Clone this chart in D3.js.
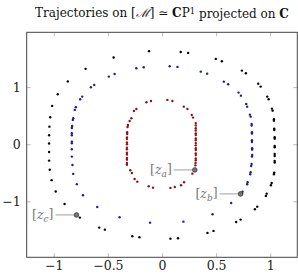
<!DOCTYPE html>
<html>
<head>
<meta charset="utf-8">
<script src="https://cdn.jsdelivr.net/npm/d3@7"></script>
<style>
  body { margin: 0; background: #fff; }
  text { font-family: "DejaVu Serif", serif; }
</style>
</head>
<body>
<svg id="chart" width="298" height="277"></svg>
<script>
// Trajektorien (Punkte als [x, y])
const outerTraj = [
  [-0.12,1.63],[-0.447,1.52],[-0.706,1.32],[-0.87,1.10],[-0.963,0.876],[-1.015,0.671],
  [-1.033,0.473],[-1.04,0.308],[-1.043,0.158],[-1.043,0.014],[-1.043,-0.135],[-1.043,-0.287],
  [-1.037,-0.447],[-1.02,-0.629],[-0.982,-0.827],[-0.90,-1.046],[-0.79,-1.238],[-0.759,-1.285],
  [-0.58,-1.46],[-0.528,-1.496],[-0.274,-1.611],[-0.209,-1.629],[0.078,-1.653],[0.148,-1.646],
  [0.42,-1.553],[0.476,-1.518],[0.685,-1.361],[0.726,-1.32],[0.858,-1.138],[0.88,-1.093],
  [0.96,-0.905],[0.967,-0.865],[1.006,-0.718],[1.013,-0.678],[1.034,-0.525],[1.037,-0.497],
  [1.041,-0.322],[1.041,-0.292],[1.041,-0.205],[1.041,-0.17],[1.041,-0.053],[1.041,-0.03],
  [1.041,0.098],[1.041,0.123],[1.037,0.25],[1.037,0.273],[1.034,0.413],[1.034,0.438],
  [1.022,0.588],[1.016,0.623],[0.985,0.788],[0.972,0.834],[0.911,1.009],[0.889,1.061],
  [0.775,1.243],[0.738,1.289],[0.553,1.454],[0.497,1.494],[0.241,1.599],[0.173,1.616]
];
const middleTraj = [
  [-0.169,1.349],[-0.237,1.331],[-0.438,1.231],[-0.491,1.184],[-0.626,1.039],[-0.657,0.998],
  [-0.737,0.834],[-0.756,0.788],[-0.796,0.648],[-0.806,0.601],[-0.82,0.455],[-0.824,0.426],
  [-0.83,0.32],[-0.833,0.285],[-0.833,0.193],[-0.833,0.158],[-0.833,0.046],[-0.833,0.018],
  [-0.833,-0.088],[-0.833,-0.217],[-0.827,-0.363],[-0.82,-0.52],[-0.787,-0.699],[-0.73,-0.893],
  [-0.598,-1.098],[-0.392,-1.278],[-0.11,-1.373],[0.198,-1.356],[0.467,-1.226],[0.639,-1.028],
  [0.726,-0.87],[0.738,-0.858],[0.744,-0.83],[0.787,-0.70],[0.791,-0.665],[0.815,-0.525],
  [0.819,-0.49],[0.824,-0.38],[0.828,-0.345],[0.831,-0.217],[0.833,-0.187],[0.833,-0.095],
  [0.833,-0.07],[0.831,0.04],[0.831,0.07],[0.831,0.186],[0.831,0.21],[0.828,0.326],
  [0.828,0.356],[0.819,0.483],[0.812,0.518],[0.787,0.658],[0.778,0.706],[0.729,0.851],
  [0.707,0.904],[0.611,1.051],[0.571,1.096],[0.417,1.236],[0.358,1.271],[0.143,1.354],
  [0.071,1.366]
];
const innerTraj = [
  [-0.144,0.736],[-0.102,0.758],[0.05,0.776],[0.096,0.758],[0.201,0.658],[0.235,0.618],
  [0.275,0.513],[0.287,0.466],[0.312,0.37],[0.312,0.33],[0.312,0.28],[0.312,0.24],
  [0.312,0.19],[0.312,0.16],[0.312,0.10],[0.312,0.07],[0.312,0.02],[0.312,-0.02],
  [0.312,-0.07],[0.312,-0.10],[0.312,-0.16],[0.312,-0.19],[0.312,-0.25],[0.312,-0.28],
  [0.31,-0.33],[0.308,-0.37],[0.303,-0.45],[0.281,-0.515],[0.204,-0.666],[0.176,-0.718],
  [0.118,-0.748],[0.078,-0.765],[-0.083,-0.76],[-0.123,-0.736],[-0.228,-0.655],[-0.253,-0.608],
  [-0.278,-0.503],[-0.293,-0.455],[-0.324,-0.36],[-0.324,-0.33],[-0.324,-0.27],[-0.324,-0.24],
  [-0.324,-0.18],[-0.324,-0.15],[-0.324,-0.09],[-0.324,-0.06],[-0.324,0.0],[-0.324,0.03],
  [-0.324,0.09],[-0.324,0.12],[-0.322,0.18],[-0.322,0.21],[-0.318,0.303],[-0.315,0.338],
  [-0.299,0.408],[-0.283,0.455],[-0.259,0.583],[-0.237,0.618]
];

// markierte Punkte
const markerNames = ["a", "b", "c"];
const markerX = [0.303, 0.726, -0.79];
const markerY = [-0.45, -0.87, -1.238];

const xTicks = [-1, -0.5, 0, 0.5, 1];
const yTicks = [-1, 0, 1];

const width = 298, height = 277;
const box = { left: 26.7, right: 297.3, top: 32.3, bottom: 257.3 };

const svg = d3.select("#chart");

const x = d3.scaleLinear().domain([-1.25, 1.25]).range([box.left, box.right]);
const y = d3.scaleLinear().domain([-1.98, 1.96]).range([box.bottom, box.top]);

const fmt = d => (d < 0 ? "\u2212" : "") + Math.abs(d);

// Achsen mit Ticks nach innen, auf allen vier Seiten
function styleAxis(sel, labels) {
  sel.attr("font-family", null).attr("font-size", null);
  sel.select(".domain").remove();
  sel.selectAll(".tick line").attr("stroke", "#aaa").attr("stroke-width", 0.8);
  sel.selectAll(".tick text")
    .attr("fill", "#222")
    .style("font-size", "12.5px");
  if (!labels) sel.selectAll(".tick text").remove();
}

svg.append("g")
  .attr("transform", `translate(0,${box.bottom})`)
  .call(d3.axisBottom(x).tickValues(xTicks).tickFormat(fmt).tickSizeInner(-4).tickSizeOuter(0).tickPadding(4))
  .call(s => styleAxis(s, true));
svg.append("g")
  .attr("transform", `translate(0,${box.top})`)
  .call(d3.axisTop(x).tickValues(xTicks).tickSizeInner(-4).tickSizeOuter(0))
  .call(s => styleAxis(s, false));
svg.append("g")
  .attr("transform", `translate(${box.left},0)`)
  .call(d3.axisLeft(y).tickValues(yTicks).tickFormat(fmt).tickSizeInner(-4).tickSizeOuter(0).tickPadding(6))
  .call(s => styleAxis(s, true));
svg.append("g")
  .attr("transform", `translate(${box.right},0)`)
  .call(d3.axisRight(y).tickValues(yTicks).tickSizeInner(-4).tickSizeOuter(0))
  .call(s => styleAxis(s, false));

svg.append("rect")
  .attr("x", box.left).attr("y", box.top)
  .attr("width", box.right - box.left).attr("height", box.bottom - box.top)
  .attr("fill", "none").attr("stroke", "#444").attr("stroke-width", 1);

// Punkte
const series = [
  { data: outerTraj, color: "#000000" },
  { data: middleTraj, color: "#1c1c9c" },
  { data: innerTraj, color: "#8e1414" }
];
series.forEach(s => {
  svg.append("g").selectAll("circle")
    .data(s.data)
    .join("circle")
    .attr("cx", d => x(d[0]))
    .attr("cy", d => y(d[1]))
    .attr("r", 1.2)
    .attr("fill", s.color);
});

// Beschriftungen [z_a], [z_b], [z_c]
const marks = markerNames.map((n, i) => ({ n, x: markerX[i], y: markerY[i] }));
const mg = svg.append("g");
marks.forEach(m => {
  const cx = x(m.x), cy = y(m.y);
  mg.append("line")
    .attr("x1", cx - 21).attr("x2", cx - 2.5)
    .attr("y1", cy).attr("y2", cy)
    .attr("stroke", "#888").attr("stroke-width", 0.8);
  mg.append("circle")
    .attr("cx", cx).attr("cy", cy).attr("r", 2.3)
    .attr("fill", "#777").attr("stroke", "#333").attr("stroke-width", 0.8);
  const t = mg.append("text")
    .attr("x", cx - 23).attr("y", cy).attr("dy", "0.35em")
    .attr("text-anchor", "end")
    .attr("fill", "#777")
    .style("font-size", "12.5px");
  t.append("tspan").text("[");
  t.append("tspan").attr("font-style", "italic").text("z");
  t.append("tspan").attr("font-style", "italic").attr("dy", "0.25em").style("font-size", "9px").text(m.n);
  t.append("tspan").attr("dy", "-0.25em").text("]");
});

// Titel
const title = svg.append("text")
  .attr("x", (box.left + box.right) / 2).attr("y", 17)
  .attr("text-anchor", "middle")
  .attr("fill", "#111")
  .style("font-size", "12px");
title.append("tspan").text("Trajectories on [");
title.append("tspan").attr("font-style", "italic").text("\u2133");
title.append("tspan").text("] \u2243 ");
title.append("tspan").attr("font-weight", "bold").text("C");
title.append("tspan").text("P");
title.append("tspan").attr("dy", "-0.4em").style("font-size", "8.5px").text("1");
title.append("tspan").attr("dy", "0.4em").text(" projected on ");
title.append("tspan").attr("font-weight", "bold").text("C");
</script>
</body>
</html>
